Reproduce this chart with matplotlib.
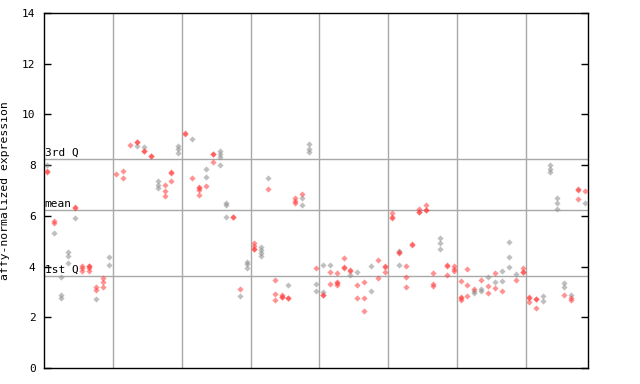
import matplotlib
matplotlib.use("Agg")
import matplotlib.pyplot as plt

# sample index, expression value, grey flag (0 = red, 1 = grey)
sample = [0, 0, 0,
          1, 1, 1,
          2, 2, 2,
          3, 3, 3,
          4, 4, 4,
          5, 5, 5,
          6, 6, 6, 6,
          7, 7, 7,
          8, 8, 8,
          9, 9,
          10,
          11, 11,
          12,
          13, 13, 13,
          14, 14, 14,
          15, 15,
          16, 16, 16,
          17, 17, 17,
          18, 18, 18,
          19, 19, 19,
          20, 20,
          21, 21,
          22, 22, 22, 22,
          23, 23, 23,
          24, 24, 24,
          25, 25, 25, 25,
          26, 26, 26,
          27, 27,
          28, 28,
          29, 29, 29,
          30, 30, 30, 30,
          31, 31, 31, 31,
          32, 32,
          33, 33, 33,
          34, 34, 34,
          35, 35, 35,
          36, 36, 36,
          37, 37, 37,
          38, 38, 38,
          39, 39, 39,
          40, 40, 40, 40,
          41, 41, 41,
          42, 42, 42, 42,
          43, 43, 43,
          44, 44, 44,
          45, 45, 45,
          46, 46, 46,
          47, 47,
          48, 48,
          49, 49, 49,
          50, 50, 50,
          51, 51, 51, 51,
          52, 52, 52,
          53, 53,
          54, 54, 54,
          55, 55, 55,
          56, 56, 56,
          57, 57, 57,
          58, 58, 58,
          59, 59, 59,
          60, 60, 60, 60,
          61, 61, 61,
          62, 62, 62,
          63, 63, 63,
          64, 64, 64,
          65, 65, 65,
          66, 66, 66,
          67, 67, 67,
          68, 68,
          69, 69, 69,
          70, 70, 70,
          71, 71, 71,
          72, 72,
          73, 73, 73,
          74, 74, 74,
          75, 75, 75,
          76, 76, 76,
          77, 77, 77,
          78, 78]

value = [7.99, 7.73, 7.75,
         5.80, 5.71, 5.34,
         3.58, 2.87, 2.78,
         4.58, 4.42, 4.16,
         6.36, 6.30, 5.93,
         4.03, 3.93, 3.83,
         4.02, 4.04, 3.93, 3.83,
         3.18, 3.08, 2.74,
         3.55, 3.40, 3.18,
         4.37, 4.05,
         7.67,
         7.78, 7.50,
         8.78,
         8.91, 8.93, 8.75,
         8.72, 8.55, 8.57,
         8.36, 8.38,
         7.36, 7.20, 7.08,
         7.23, 7.00, 6.80,
         7.70, 7.72, 7.39,
         8.74, 8.62, 8.49,
         9.24, 9.26,
         9.05, 7.50,
         7.11, 7.13, 7.02, 6.84,
         7.86, 7.54, 7.19,
         8.43, 8.45, 8.13,
         8.54, 8.42, 8.33, 8.02,
         6.52, 6.43, 5.97,
         5.96, 5.94,
         3.10, 2.82,
         4.20, 4.09, 3.96,
         4.92, 4.80, 4.68, 4.70,
         4.77, 4.66, 4.55, 4.40,
         7.48, 7.07,
         3.49, 2.90, 2.70,
         2.88, 2.81, 2.79,
         3.29, 2.77, 2.75,
         6.69, 6.60, 6.52,
         6.87, 6.70, 6.44,
         8.82, 8.65, 8.51,
         3.96, 3.31, 3.02,
         4.05, 2.98, 2.88, 2.86,
         4.05, 3.80, 3.31,
         3.73, 3.37, 3.39, 3.28,
         4.32, 3.95, 3.97,
         3.83, 3.85, 3.66,
         3.80, 3.29, 2.78,
         3.41, 2.75, 2.23,
         4.01, 3.02,
         4.24, 3.53,
         3.99, 4.01, 3.80,
         6.13, 5.92, 5.94,
         4.62, 4.55, 4.57, 4.08,
         4.04, 3.57, 3.18,
         4.87, 4.89,
         6.29, 6.15, 6.17,
         6.44, 6.23, 6.25,
         3.73, 3.32, 3.22,
         5.14, 4.91, 4.71,
         4.07, 4.01, 3.65,
         4.01, 3.91, 3.83,
         3.45, 2.78, 2.80, 2.70,
         3.92, 3.27, 2.82,
         3.11, 3.02, 2.94,
         3.46, 3.11, 3.02,
         3.57, 3.25, 2.94,
         3.76, 3.41, 3.14,
         3.84, 3.45, 3.02,
         4.95, 4.36, 4.00,
         3.69, 3.49,
         3.96, 3.78, 3.80,
         2.78, 2.80, 2.59,
         2.72, 2.74, 2.35,
         2.83, 2.64,
         7.99, 7.83, 7.74,
         6.69, 6.52, 6.29,
         3.35, 3.18, 2.86,
         2.88, 2.78, 2.70,
         7.02, 7.04, 6.68,
         7.00, 6.52]

grey = [1, 0, 0,
        0, 0, 1,
        1, 1, 1,
        1, 1, 1,
        0, 0, 1,
        0, 0, 0,
        0, 0, 0, 0,
        0, 0, 1,
        0, 0, 0,
        1, 1,
        0,
        0, 0,
        0,
        0, 0, 1,
        1, 0, 0,
        0, 0,
        1, 1, 1,
        0, 0, 0,
        0, 0, 0,
        1, 1, 1,
        0, 0,
        1, 0,
        0, 0, 0, 0,
        1, 1, 0,
        0, 0, 0,
        1, 1, 1, 1,
        1, 1, 1,
        0, 0,
        0, 1,
        1, 1, 1,
        0, 0, 0, 0,
        1, 1, 1, 1,
        1, 0,
        0, 0, 0,
        0, 0, 0,
        1, 0, 0,
        0, 0, 0,
        0, 1, 1,
        1, 1, 1,
        0, 1, 1,
        1, 1, 0, 0,
        1, 0, 0,
        0, 0, 0, 0,
        0, 0, 0,
        0, 0, 1,
        1, 0, 0,
        0, 0, 0,
        1, 1,
        0, 0,
        0, 0, 0,
        0, 0, 0,
        1, 0, 0, 1,
        0, 0, 0,
        0, 0,
        0, 0, 0,
        0, 0, 0,
        0, 0, 0,
        1, 1, 1,
        0, 0, 0,
        0, 0, 0,
        0, 0, 0, 0,
        0, 0, 0,
        0, 1, 1,
        0, 1, 1,
        1, 0, 0,
        0, 1, 0,
        1, 1, 0,
        1, 1, 1,
        1, 0,
        0, 0, 0,
        0, 0, 0,
        0, 0, 0,
        1, 1,
        1, 1, 1,
        1, 1, 1,
        1, 1, 0,
        1, 0, 0,
        0, 0, 0,
        0, 1]

quartiles = [3.63, 6.23, 8.24]
quartile_names = ["1st Q", "mean", "3rd Q"]
n_samples = 79

mono = "DejaVu Sans Mono"
fig = plt.figure(figsize=(6.4, 3.84), dpi=100)
ax = fig.add_axes([44 / 640, 1 - 368 / 384, 544 / 640, 355 / 384])

# grid: one vertical line every 10 samples, plus quartile lines
for gx in range(10, n_samples, 10):
    ax.axvline(gx - 0.5, color="#a8a8a8", lw=1, zorder=1)
for q, name in zip(quartiles, quartile_names):
    ax.axhline(q, color="#a8a8a8", lw=1, zorder=1)
    ax.text(-0.4, q + 0.05, name, family=mono, fontsize=8, ha="left", va="bottom", zorder=2)

red_x = [s for s, g in zip(sample, grey) if not g]
red_y = [v for v, g in zip(value, grey) if not g]
grey_x = [s for s, g in zip(sample, grey) if g]
grey_y = [v for v, g in zip(value, grey) if g]
ax.scatter(grey_x, grey_y, marker="D", s=10, color="#8c8c8c", alpha=0.55, lw=0, zorder=3)
ax.scatter(red_x, red_y, marker="D", s=10, color="#ff3b3b", alpha=0.55, lw=0, zorder=3)

ax.set_xlim(-0.5, n_samples - 0.5)
ax.set_ylim(0, 14)
ax.set_yticks(range(0, 15, 2))
ax.set_xticks([])
ax.tick_params(axis="y", direction="in", length=5, width=1, right=True, labelsize=8, pad=6)
for lab in ax.get_yticklabels():
    lab.set_family(mono)
for sp in ax.spines.values():
    sp.set_color("black")
    sp.set_linewidth(1)
ax.set_ylabel("affy-normalized expression", family=mono, fontsize=8.2)
ax.yaxis.set_label_coords(-0.062, 0.5)

fig.savefig("out.png", dpi=100)
